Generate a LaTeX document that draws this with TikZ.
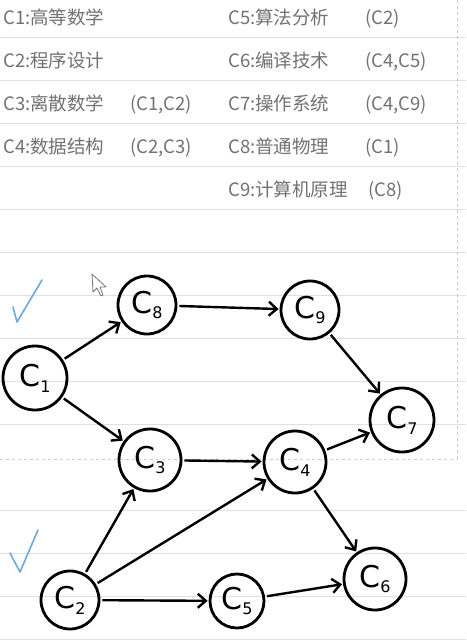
\documentclass[tikz,border=0pt]{standalone}
\usepackage{fontspec}
\usepackage{xcolor}
\usepackage{tikz}
\usetikzlibrary{arrows.meta}
\newfontfamily\cjk{Noto Sans CJK SC}
\newfontfamily\hand{DejaVu Sans}
\definecolor{textgray}{HTML}{727272}
\definecolor{rulegray}{HTML}{E0E0E0}
\definecolor{tickblue}{HTML}{6BA8E0}
\newcommand{\cname}[1]{C\raisebox{-0.35ex}{\fontsize{16}{16}\selectfont #1}}
\tikzstyle{entry} = [anchor=base west, inner sep=0pt, text=textgray,
font=\cjk\fontsize{18.5}{20}\selectfont]
\tikzstyle{course} = [circle, draw=black, line width=2.8pt, inner sep=0pt,
minimum size=58pt, font=\hand\fontsize{30}{30}\selectfont]
\tikzstyle{prereq} = [-{Straight Barb[length=8pt,width=14pt]}, line width=2.4pt,
shorten >=1pt, shorten <=2pt]
\tikzstyle{tick} = [draw=tickblue, line width=1.6pt, line cap=round, line join=round]

\begin{document}
\begin{tikzpicture}[x=1pt, y=-1pt]
        \useasboundingbox (0,0) rectangle (466,640);
        \fill[white] (0,0) rectangle (466,640);
        % lined paper
        \foreach \ly in {37,80,123,166,209,252,295,338,381,424,510,553,596,639}
            \draw[rulegray, line width=0.8pt] (0,\ly) -- (466,\ly);
        \draw[textgray!40, line width=0.8pt, dashed] (457,0) -- (457,459);
        \draw[tickblue!50, line width=0.8pt, dashed] (0,459) -- (457,459);
        % course list
        \node[entry] (l1) at (3,24)  {C1:高等数学};
        \node[entry] (l2) at (3,67)  {C2:程序设计};
        \node[entry] (l3) at (3,110) {C3:离散数学};
        \node[entry] (l4) at (3,153) {C4:数据结构};
        \node[entry] (p3) at (130,110) {(C1,C2)};
        \node[entry] (p4) at (130,153) {(C2,C3)};
        \node[entry] (l5) at (228,24)  {C5:算法分析};
        \node[entry] (l6) at (228,67)  {C6:编译技术};
        \node[entry] (l7) at (228,110) {C7:操作系统};
        \node[entry] (l8) at (228,153) {C8:普通物理};
        \node[entry] (l9) at (228,196) {C9:计算机原理};
        \node[entry] (p5) at (365,24)  {(C2)};
        \node[entry] (p6) at (365,67)  {(C4,C5)};
        \node[entry] (p7) at (365,110) {(C4,C9)};
        \node[entry] (p8) at (365,153) {(C1)};
        \node[entry] (p9) at (368,196) {(C8)};
        % graph
        \node[course] (c8) at (147,305) {\cname{8}};
        \node[course] (c9) at (310,310) {\cname{9}};
        \node[course, minimum size=64pt] (c1) at (35,378) {\cname{1}};
        \node[course, minimum size=64pt] (c7) at (402,420) {\cname{7}};
        \node[course, minimum size=62pt] (c3) at (150,460) {\cname{3}};
        \node[course, minimum size=62pt] (c4) at (295,462) {\cname{4}};
        \node[course] (c2) at (70,600) {\cname{2}};
        \node[course, minimum size=54pt] (c5) at (237,601) {\cname{5}};
        \node[course, minimum size=62pt] (c6) at (375,579) {\cname{6}};
        \draw[prereq] (c1) -- (c8);
        \draw[prereq] (c1) -- (c3);
        \draw[prereq] (c8) -- (c9);
        \draw[prereq] (c9) -- (c7);
        \draw[prereq] (c3) -- (c4);
        \draw[prereq] (c4) -- (c7);
        \draw[prereq] (c4) -- (c6);
        \draw[prereq] (c2) -- (c3);
        \draw[prereq] (c2) -- (c4);
        \draw[prereq] (c2) -- (c5);
        \draw[prereq] (c5) -- (c6);
        % ticks and pointer
        \draw[tick] (13,307) -- (17,322) -- (42,280);
        \draw[tick] (10,553) -- (20,572) -- (38,530);
        \draw[textgray, fill=white, line width=0.8pt, line join=round]
            (92,274) -- (93,292) -- (97,288) -- (101,296) -- (103,295) -- (100,287) -- (106,287) -- cycle;
    \end{tikzpicture}
\end{document}
